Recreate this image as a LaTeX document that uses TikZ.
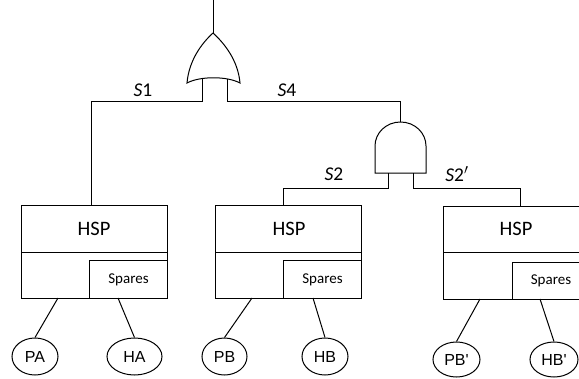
\documentclass[tikz,border=0pt]{standalone}
\usepackage{fontspec}
\setmainfont{Carlito}
\newfontfamily\arialf{Liberation Sans}
\usetikzlibrary{shapes.geometric}
\tikzset{
  wire/.style={line width=1pt, line join=miter},
  hspbox/.style={draw, line width=1pt, minimum width=146pt, minimum height=93pt, inner sep=0pt, anchor=north west},
  sparebox/.style={draw, line width=1pt, minimum width=78pt, minimum height=38pt, inner sep=0pt, anchor=south east, font=\fontsize{15}{17}\selectfont},
  hsptext/.style={font=\fontsize{20.5}{22}\selectfont, inner sep=0pt},
  leaf/.style={draw, ellipse, line width=1pt, inner sep=0pt, minimum width=47pt, minimum height=36pt, font=\arialf\fontsize{16}{18}\selectfont},
  slabel/.style={font=\fontsize{19.5}{21}\selectfont, inner sep=0pt},
  gate/.style={draw, line width=1pt, fill=white}
}
\begin{document}
\begin{tikzpicture}[x=1pt,y=-1pt]
\useasboundingbox (0,0) rectangle (579,378);
\clip (0,0) rectangle (579,378);
% OR gate
\draw[gate] (213,33) .. controls (202,43) and (189,60) .. (187,83)
  .. controls (200,76) and (227,76) .. (240,83)
  .. controls (238,60) and (224,43) .. (213,33) -- cycle;
\coordinate (orout) at (213,33);
\coordinate (orL) at (202,79);
\coordinate (orR) at (227,79);
\coordinate (top) at (213,0);
% AND gate
\draw[gate] (375,173) -- (375,146) .. controls (375,132.7) and (386.4,122) .. (400.5,122)
  .. controls (414.6,122) and (426,132.7) .. (426,146) -- (426,173) -- cycle;
\coordinate (andout) at (400.5,122);
\coordinate (andL) at (388,173);
\coordinate (andR) at (413,173);
% HSP boxes
\node[hspbox] (b1) at (21,205) {};
\node[hspbox] (b2) at (215,205) {};
\node[hspbox] (b3) at (443,206) {};
\draw[wire] (21,252) -- (167,252);
\draw[wire] (215,252) -- (362,252);
\draw[wire] (443,252) -- (589,252);
\node[sparebox] (s1) at (b1.south east) {Spares};
\node[sparebox] (s2) at (b2.south east) {Spares};
\node[sparebox, minimum width=77pt, minimum height=37pt] (s3) at (b3.south east) {Spares};
\node[hsptext] (h1) at (94,229) {HSP};
\node[hsptext] (h2) at (289,229) {HSP};
\node[hsptext] (h3) at (516,229) {HSP};
% leaves
\node[leaf, minimum width=46pt, minimum height=37pt] (pa) at (35,356.5) {PA};
\node[leaf, minimum width=55pt, minimum height=37pt] (ha) at (134.5,356.5) {HA};
\node[leaf, minimum width=45pt, minimum height=37pt] (pb) at (224.5,356.5) {PB};
\node[leaf, minimum width=46pt, minimum height=37pt] (hb) at (325,356.5) {HB};
\node[leaf, minimum width=47pt, minimum height=35pt] (pbp) at (456.5,359.5) {PB'};
\node[leaf, minimum width=48pt, minimum height=35pt] (hbp) at (554,359.5) {HB'};
% connection points on boxes
\coordinate (b1in) at (91,205);
\coordinate (b2in) at (283,205);
\coordinate (b3in) at (520,206);
\coordinate (b1l) at (58,298);
\coordinate (b1r) at (118,298);
\coordinate (b2l) at (252,298);
\coordinate (b2r) at (313,298);
\coordinate (b3l) at (480,299);
\coordinate (b3r) at (540,299);
% wires
\draw[wire] (top) -- (orout);
\draw[wire] (orL) -- (202,101) -| (b1in);
\draw[wire] (orR) -- (227,101) -| (andout);
\draw[wire] (andL) -- (388,188) -| (b2in);
\draw[wire] (andR) -- (413,188) -| (b3in);
\draw[wire] (b1l) -- (pa.north);
\draw[wire] (b1r) -- (ha.north);
\draw[wire] (b2l) -- (pb.north);
\draw[wire] (b2r) -- (hb.north);
\draw[wire] (b3l) -- (pbp.north);
\draw[wire] (b3r) -- (hbp.north);
% labels
\node[slabel] (l1) at (143,90) {\textit{S}1};
\node[slabel] (l4) at (287,90) {\textit{S}4};
\node[slabel] (l2) at (334,174) {\textit{S}2};
\node[slabel] (l2p) at (457,174) {\textit{S}2$'$};
\end{tikzpicture}
\end{document}
